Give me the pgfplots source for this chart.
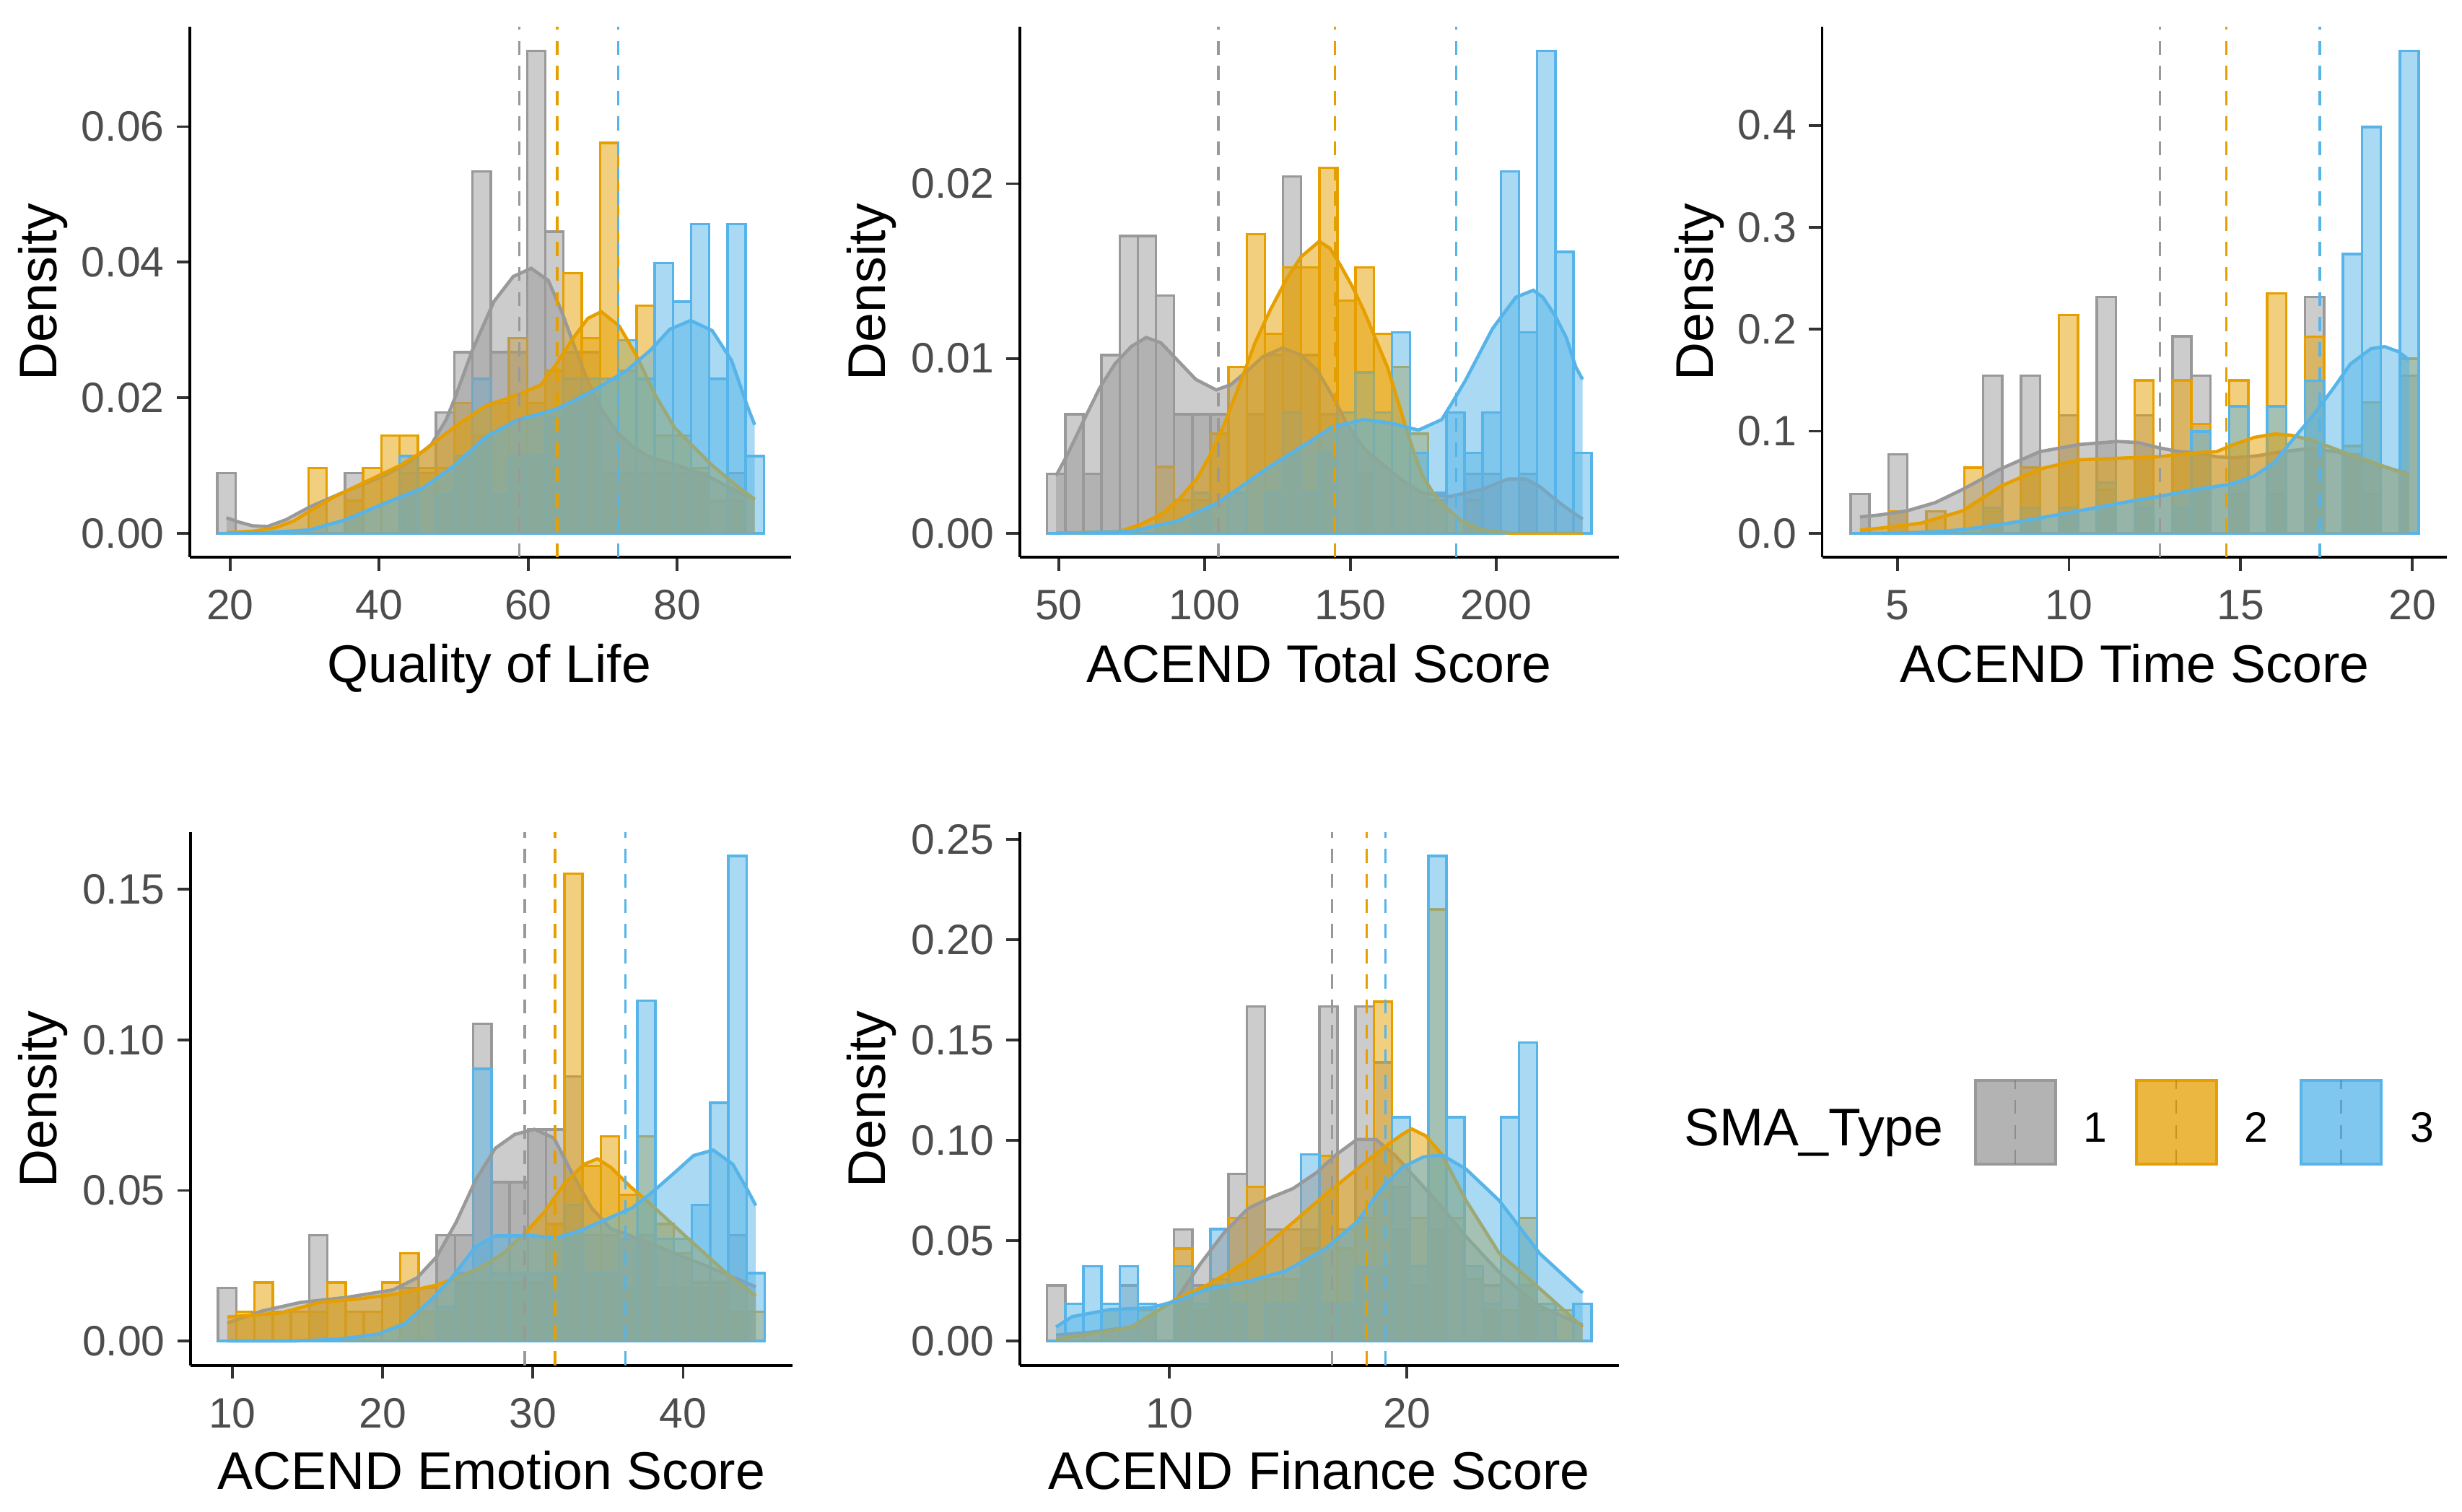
\documentclass[border=0pt]{standalone}
\usepackage{pgfplots}
\pgfplotsset{compat=1.18}
\usepackage{pgfplotstable}
\usepackage{fontspec}
\setmainfont{Liberation Sans}

\definecolor{c1}{HTML}{999999}
\definecolor{c2}{HTML}{E69F00}
\definecolor{c3}{HTML}{56B4E9}
\definecolor{tickgray}{HTML}{4D4D4D}
\newcommand\tickfont{\fontsize{7.7}{9}\selectfont}
\newcommand\titlefont{\fontsize{9.6}{11}\selectfont}

\pgfplotsset{
  panel/.style={
    scale only axis, anchor=south west,
    axis lines=left, axis line style={-, black, line width=0.5pt},
    enlargelimits=false, scaled ticks=false,
    tick align=outside, major tick length=0.85mm,
    tick style={black!80, line width=0.5pt},
    ticklabel style={font=\tickfont, text=tickgray},
    yticklabel style={xshift=0.45mm},
  },
  hist/.style={ybar interval, draw=#1, fill=#1, fill opacity=0.5, line width=0.45pt},
  dfill/.style={draw=none, fill=#1, fill opacity=0.5},
  dline/.style={draw=#1, line width=0.6pt},
  mline/.style={draw=#1, line width=0.45pt, dash pattern=on 0.9mm off 0.7mm},
}

% histogram bins: left edge, then density for SMA type 1, 2, 3
\pgfplotstableread{
x g o b
18.27 0.0089 0 0
20.72 0 0 0
23.16 0 0 0
25.61 0 0 0
28.05 0 0 0
30.50 0 0.0096 0
32.95 0 0 0
35.39 0.0089 0.0048 0
37.84 0 0.0096 0
40.28 0 0.0144 0
42.73 0.0089 0.0144 0.0114
45.18 0.0089 0.0096 0
47.62 0.0178 0.0096 0.0057
50.07 0.0267 0.0192 0.0114
52.51 0.0534 0.0144 0.0228
54.96 0.0267 0.0192 0.0057
57.41 0.0267 0.0288 0.0114
59.85 0.0712 0.0192 0.0114
62.30 0.0445 0.0240 0.0171
64.74 0.0267 0.0384 0.0228
67.19 0.0267 0.0288 0.0228
69.64 0.0089 0.0576 0.0228
72.08 0.0089 0.0240 0.0285
74.53 0.0089 0.0336 0.0228
76.97 0.0089 0.0144 0.0399
79.42 0.0089 0.0144 0.0342
81.87 0.0089 0.0096 0.0456
84.31 0 0.0048 0.0228
86.76 0.0089 0.0048 0.0456
89.20 0 0 0.0114
91.65 0 0 0
}\hA

\pgfplotstableread{
x g o b
46.00 0.0034 0 0
52.22 0.0068 0 0
58.45 0.0034 0 0
64.67 0.0102 0 0
70.89 0.0170 0 0
77.12 0.0170 0 0
83.34 0.0136 0.0038 0
89.56 0.0068 0.0019 0
95.78 0.0068 0.0019 0.0023
102.01 0.0068 0.0057 0
108.23 0 0.0095 0.0023
114.45 0.0068 0.0171 0
120.68 0.0102 0.0114 0.0023
126.90 0.0204 0.0152 0.0069
133.12 0.0102 0.0152 0.0023
139.35 0.0068 0.0209 0.0046
145.57 0 0.0133 0.0069
151.79 0.0034 0.0152 0.0092
158.01 0 0.0114 0.0069
164.24 0 0.0095 0.0115
170.46 0 0.0057 0.0046
176.68 0 0.0019 0.0023
182.91 0 0 0.0069
189.13 0.0034 0.0019 0.0046
195.35 0.0034 0 0.0069
201.58 0 0 0.0207
207.80 0.0034 0 0.0115
214.02 0 0 0.0276
220.24 0 0 0.0161
226.47 0 0 0.0046
232.69 0 0 0
}\hB

\pgfplotstableread{
x g o b
3.636 0.0386 0 0
4.188 0 0 0
4.740 0.0772 0.0214 0
5.291 0 0 0
5.843 0 0.0214 0
6.395 0 0 0
6.947 0 0.0642 0
7.499 0.1544 0.0214 0.0249
8.050 0 0 0
8.602 0.1544 0.0642 0.0249
9.154 0 0 0
9.706 0.1158 0.2140 0.0249
10.258 0 0 0
10.809 0.2316 0.0428 0.0498
11.361 0 0 0
11.913 0.1158 0.1498 0.0249
12.465 0 0 0
13.017 0.1930 0.1498 0.0249
13.568 0.1544 0.1070 0.0996
14.120 0 0 0
14.672 0.0386 0.1498 0.1245
15.224 0 0 0
15.776 0.0386 0.2354 0.1245
16.327 0 0 0
16.879 0.2316 0.1926 0.1494
17.431 0 0 0
17.983 0.0772 0.0856 0.2739
18.535 0.0386 0.1284 0.3984
19.086 0 0 0
19.638 0.1544 0.1712 0.4731
20.190 0 0 0
}\hC

\pgfplotstableread{
x g o b
9.06 0.0176 0 0
10.27 0 0.0097 0
11.48 0 0.0194 0
12.70 0 0.0097 0
13.91 0 0.0097 0
15.12 0.0351 0.0097 0
16.33 0 0.0194 0
17.55 0 0.0097 0
18.76 0 0.0097 0
19.97 0 0.0194 0
21.18 0.0176 0.0291 0
22.40 0.0176 0.0097 0
23.61 0.0351 0.0097 0.0113
24.82 0.0351 0.0194 0.0226
26.03 0.1053 0.0194 0.0904
27.24 0.0527 0.0194 0.0226
28.46 0.0527 0.0194 0.0226
29.67 0.0702 0.0194 0.0226
30.88 0.0702 0.0388 0.0226
32.09 0.0878 0.1552 0.0452
33.31 0.0351 0.0582 0.0226
34.52 0.0351 0.0679 0.0226
35.73 0.0176 0.0485 0.0339
36.94 0.0351 0.0679 0.1130
38.16 0.0176 0.0388 0.0339
39.37 0.0176 0.0291 0.0339
40.58 0.0176 0.0194 0.0452
41.79 0.0176 0.0194 0.0791
43.00 0.0351 0.0097 0.1610
44.22 0 0.0097 0.0226
45.43 0 0 0
}\hD

\pgfplotstableread{
x g o b
4.840 0.0278 0 0
5.605 0 0 0.0186
6.370 0 0 0.0372
7.135 0 0.0154 0.0186
7.900 0.0278 0 0.0372
8.665 0 0.0154 0.0186
9.430 0 0 0
10.195 0.0556 0.0461 0.0372
10.960 0.0278 0.0154 0.0186
11.725 0.0278 0.0308 0.0558
12.490 0.0834 0.0615 0.0186
13.255 0.1668 0.0769 0
14.020 0.0556 0.0308 0.0186
14.785 0.0556 0.0308 0.0186
15.550 0.0556 0.0461 0.0930
16.315 0.1668 0.0923 0.0186
17.080 0.0556 0.0461 0.0186
17.845 0.1668 0.0615 0.0372
18.610 0.1390 0.1692 0.0372
19.375 0.0556 0.0769 0.1116
20.140 0.0278 0.0615 0.0372
20.905 0.0556 0.2153 0.2418
21.670 0 0.0615 0.1116
22.435 0 0.0308 0.0372
23.200 0.0278 0.0154 0.0186
23.965 0 0.0154 0.1116
24.730 0.0278 0.0615 0.1488
25.495 0 0.0154 0.0186
26.260 0 0.0154 0
27.025 0 0 0.0186
27.790 0 0 0
}\hE

% density curves
\pgfplotstableread{
x y
19.5 0.0023
21 0.0017
23 0.0011
25 0.0010
27.5 0.0020
30.7 0.0039
33 0.0050
35.5 0.0062
38 0.0073
40.7 0.0085
44 0.0105
47 0.0131
49 0.0168
50.1 0.0198
52.5 0.0270
55.4 0.0342
58 0.0379
60.4 0.0391
62.7 0.0373
64.5 0.0327
66.4 0.0270
68 0.0225
70 0.0180
72 0.0148
74 0.0128
76 0.0114
80 0.0100
84 0.0085
88 0.0062
90.4 0.0050
}\dAg
\pgfplotstableread{
x y
19.5 0.0001
23 0.0003
26 0.0008
28.5 0.0018
30.7 0.0033
34 0.0054
38 0.0075
42.8 0.0100
45.9 0.0121
50.1 0.0157
54.3 0.0188
59 0.0206
61.7 0.0219
63.8 0.0250
65.9 0.0286
68 0.0317
69.8 0.0327
72.2 0.0306
74.5 0.0263
77 0.0205
79.7 0.0155
84.7 0.0100
88 0.0070
90.4 0.0050
}\dAo
\pgfplotstableread{
x y
19.5 0.0000
25 0.0001
30.7 0.0005
35.5 0.0020
40.7 0.0044
45.9 0.0067
50.1 0.0100
54.3 0.0142
58.5 0.0167
63.8 0.0183
68.5 0.0209
73.2 0.0240
76.4 0.0270
79 0.0301
81.8 0.0314
84.7 0.0299
87.3 0.0255
89.4 0.0188
90.4 0.0160
}\dAb

\pgfplotstableread{
x y
49.1 0.0033
53 0.0045
58.7 0.0065
64 0.0083
69.3 0.0097
75 0.0107
80 0.0112
85 0.0109
90.7 0.0099
97 0.0088
104 0.0082
109 0.0085
114.7 0.0093
120 0.0101
126.7 0.0106
133 0.0102
138.7 0.0093
144 0.0078
149.3 0.0061
155 0.0048
161.3 0.0039
168 0.0030
174.7 0.0023
184 0.0021
195 0.0025
204 0.0031
210 0.0031
214.7 0.0027
222 0.0017
229.6 0.0008
}\dBg
\pgfplotstableread{
x y
49.1 0.0000
70.7 0.0001
78 0.0005
85.3 0.0011
91 0.0019
97.3 0.0031
102 0.0045
106.7 0.0062
112 0.0085
117.3 0.0109
122.6 0.0128
128 0.0145
133 0.0158
139.3 0.0167
143 0.0163
146.7 0.0153
150.7 0.0141
154.7 0.0127
158.7 0.0111
162.7 0.0095
166 0.0077
169.3 0.0059
172 0.0045
174.7 0.0033
178 0.0024
181.3 0.0017
188 0.0007
194.7 0.0002
205 0.0000
229.6 0.0000
}\dBo
\pgfplotstableread{
x y
49.1 0.0000
74.7 0.0001
90.7 0.0007
104 0.0017
112 0.0026
121.3 0.0037
128 0.0044
134.7 0.0051
144 0.0061
154.7 0.0065
164 0.0063
173.3 0.0059
181.3 0.0065
185 0.0075
189.3 0.0087
194 0.0102
198.7 0.0117
206.7 0.0135
212.7 0.0139
216 0.0135
220 0.0125
224 0.0112
227.3 0.0095
229.6 0.0088
}\dBb

\pgfplotstableread{
x y
3.91 0.016
4.5 0.018
5.28 0.022
6.1 0.030
6.9 0.043
8.0 0.063
9.15 0.080
10.3 0.087
11.4 0.090
12.0 0.089
12.6 0.084
13.2 0.080
13.7 0.079
14.3 0.075
14.8 0.074
15.5 0.076
16.2 0.080
17.0 0.083
17.8 0.080
18.6 0.072
19.3 0.064
19.91 0.058
}\dCg
\pgfplotstableread{
x y
3.91 0.003
4.5 0.005
5.7 0.010
6.9 0.022
8.0 0.046
9.15 0.063
10.3 0.072
11.4 0.0735
12.6 0.075
13.7 0.079
14.3 0.080
14.8 0.087
15.4 0.094
16.0 0.0974
16.5 0.096
17.1 0.091
18.2 0.077
19.4 0.063
19.91 0.057
}\dCo
\pgfplotstableread{
x y
3.91 0.000
5.0 0.000
6.3 0.0017
7.0 0.004
8.0 0.0085
9.15 0.015
10.3 0.022
11.4 0.029
12.6 0.036
13.7 0.043
14.7 0.048
15.4 0.056
16.0 0.070
16.5 0.091
17.1 0.115
17.7 0.142
18.2 0.166
18.8 0.181
19.2 0.183
19.6 0.178
19.91 0.170
}\dCb

\pgfplotstableread{
x y
9.67 0.0060
12 0.0100
14.5 0.0128
17.6 0.0145
20.7 0.0170
22.3 0.0210
23.6 0.0280
24.9 0.0395
26.2 0.0535
27.5 0.0640
28.8 0.0686
30.1 0.0703
31.4 0.0674
32.6 0.0558
33.9 0.0442
35.2 0.0372
36.5 0.0350
38 0.0320
40 0.0280
42 0.0240
44.83 0.0180
}\dDg
\pgfplotstableread{
x y
9.67 0.0080
13.2 0.0093
15.8 0.0128
18.4 0.0140
21 0.0157
23.6 0.0186
24.9 0.0210
26.4 0.0240
28 0.0290
29.5 0.0360
30.8 0.0430
32.1 0.0523
33.4 0.0587
34.3 0.0605
35.2 0.0576
36.5 0.0512
37.6 0.0465
40.4 0.0337
43 0.0220
44.83 0.0150
}\dDo
\pgfplotstableread{
x y
9.67 0.0000
14 0.0000
17.1 0.0006
19.7 0.0023
21.5 0.0058
23.3 0.0140
24.6 0.0210
26.2 0.0314
27.5 0.0349
28.8 0.0349
30.1 0.0349
31.6 0.0343
33.1 0.0366
34.7 0.0400
36.6 0.0442
37.8 0.0488
39.4 0.0558
40.7 0.0616
42 0.0634
43.3 0.0587
44.3 0.0500
44.83 0.0450
}\dDb

\pgfplotstableread{
x y
5.22 0.0030
6.7 0.0044
8.4 0.0070
10.3 0.0210
11.3 0.0385
12.3 0.0540
13.3 0.0660
14.3 0.0717
15.2 0.0760
16.2 0.0840
17.0 0.0927
17.9 0.1005
18.7 0.1005
19.5 0.0927
20.7 0.0770
21.5 0.0664
22.5 0.0520
24 0.0330
25.5 0.0180
27.41 0.0080
}\dEg
\pgfplotstableread{
x y
5.22 0.0010
6.7 0.0035
8.4 0.0070
10.3 0.0210
11.6 0.0280
13.3 0.0400
14.9 0.0560
16.6 0.0734
17.9 0.0857
19.0 0.0962
19.8 0.1030
20.2 0.1058
20.8 0.1023
21.5 0.0927
22.5 0.0700
23.9 0.0437
25.6 0.0262
27.41 0.0070
}\dEo
\pgfplotstableread{
x y
5.22 0.0070
5.9 0.0122
7.5 0.0157
9.2 0.0166
10.3 0.0200
11.6 0.0260
13.3 0.0297
14.9 0.0350
16.6 0.0463
17.9 0.0594
19.0 0.0770
19.8 0.0865
20.7 0.0918
21.5 0.0927
22.5 0.0857
23.9 0.0700
25.6 0.0437
27.41 0.0240
}\dEb

\begin{document}
\begin{tikzpicture}
\path (0,0) rectangle (156.8mm,96.3mm);

% Quality of Life
\begin{axis}[panel, at={(12.1mm,60.8mm)}, width=38.3mm, height=33.8mm,
  xmin=14.6, xmax=95.32, ymin=-0.00356, ymax=0.07476,
  xtick={20,40,60,80}, xticklabels={20,40,60,80},
  ytick={0,0.02,0.04,0.06}, yticklabels={0.00,0.02,0.04,0.06}]
\addplot[hist=c1] table[x=x,y=g]{\hA};
\addplot[hist=c2] table[x=x,y=o]{\hA};
\addplot[hist=c3] table[x=x,y=b]{\hA};
\addplot[dfill=c1] table{\dAg}\closedcycle;
\addplot[dline=c1] table{\dAg};
\addplot[dfill=c2] table{\dAo}\closedcycle;
\addplot[dline=c2] table{\dAo};
\addplot[dfill=c3] table{\dAb}\closedcycle;
\addplot[dline=c3] table{\dAb};
\addplot[mline=c1] coordinates{(58.8,-0.00356)(58.8,0.07476)};
\addplot[mline=c2] coordinates{(63.9,-0.00356)(63.9,0.07476)};
\addplot[mline=c3] coordinates{(72.1,-0.00356)(72.1,0.07476)};
\end{axis}

% ACEND Total Score
\begin{axis}[panel, at={(64.95mm,60.8mm)}, width=38.15mm, height=33.8mm,
  xmin=36.66, xmax=242.03, ymin=-0.00138, ymax=0.02898,
  xtick={50,100,150,200}, xticklabels={50,100,150,200},
  ytick={0,0.01,0.02}, yticklabels={0.00,0.01,0.02}]
\addplot[hist=c1] table[x=x,y=g]{\hB};
\addplot[hist=c2] table[x=x,y=o]{\hB};
\addplot[hist=c3] table[x=x,y=b]{\hB};
\addplot[dfill=c1] table{\dBg}\closedcycle;
\addplot[dline=c1] table{\dBg};
\addplot[dfill=c2] table{\dBo}\closedcycle;
\addplot[dline=c2] table{\dBo};
\addplot[dfill=c3] table{\dBb}\closedcycle;
\addplot[dline=c3] table{\dBb};
\addplot[mline=c1] coordinates{(104.7,-0.00138)(104.7,0.02898)};
\addplot[mline=c2] coordinates{(144.7,-0.00138)(144.7,0.02898)};
\addplot[mline=c3] coordinates{(186.3,-0.00138)(186.3,0.02898)};
\end{axis}

% ACEND Time Score
\begin{axis}[panel, at={(116.05mm,60.8mm)}, width=39.8mm, height=33.8mm,
  xmin=2.808, xmax=21.017, ymin=-0.02366, ymax=0.49676,
  xtick={5,10,15,20}, xticklabels={5,10,15,20},
  ytick={0,0.1,0.2,0.3,0.4}, yticklabels={0.0,0.1,0.2,0.3,0.4}]
\addplot[hist=c1] table[x=x,y=g]{\hC};
\addplot[hist=c2] table[x=x,y=o]{\hC};
\addplot[hist=c3] table[x=x,y=b]{\hC};
\addplot[dfill=c1] table{\dCg}\closedcycle;
\addplot[dline=c1] table{\dCg};
\addplot[dfill=c2] table{\dCo}\closedcycle;
\addplot[dline=c2] table{\dCo};
\addplot[dfill=c3] table{\dCb}\closedcycle;
\addplot[dline=c3] table{\dCb};
\addplot[mline=c1] coordinates{(12.65,-0.02366)(12.65,0.49676)};
\addplot[mline=c2] coordinates{(14.58,-0.02366)(14.58,0.49676)};
\addplot[mline=c3] coordinates{(17.31,-0.02366)(17.31,0.49676)};
\end{axis}

% ACEND Emotion Score
\begin{axis}[panel, at={(12.15mm,9.34mm)}, width=38.3mm, height=33.98mm,
  xmin=7.24, xmax=47.25, ymin=-0.00805, ymax=0.16905,
  xtick={10,20,30,40}, xticklabels={10,20,30,40},
  ytick={0,0.05,0.10,0.15}, yticklabels={0.00,0.05,0.10,0.15}]
\addplot[hist=c1] table[x=x,y=g]{\hD};
\addplot[hist=c2] table[x=x,y=o]{\hD};
\addplot[hist=c3] table[x=x,y=b]{\hD};
\addplot[dfill=c1] table{\dDg}\closedcycle;
\addplot[dline=c1] table{\dDg};
\addplot[dfill=c2] table{\dDo}\closedcycle;
\addplot[dline=c2] table{\dDo};
\addplot[dfill=c3] table{\dDb}\closedcycle;
\addplot[dline=c3] table{\dDb};
\addplot[mline=c1] coordinates{(29.45,-0.00805)(29.45,0.16905)};
\addplot[mline=c2] coordinates{(31.48,-0.00805)(31.48,0.16905)};
\addplot[mline=c3] coordinates{(36.15,-0.00805)(36.15,0.16905)};
\end{axis}

% ACEND Finance Score
\begin{axis}[panel, at={(64.95mm,9.34mm)}, width=38.15mm, height=33.98mm,
  xmin=3.6925, xmax=28.9375, ymin=-0.01209, ymax=0.25389,
  xtick={10,20}, xticklabels={10,20},
  ytick={0,0.05,0.10,0.15,0.20,0.25}, yticklabels={0.00,0.05,0.10,0.15,0.20,0.25}]
\addplot[hist=c1] table[x=x,y=g]{\hE};
\addplot[hist=c2] table[x=x,y=o]{\hE};
\addplot[hist=c3] table[x=x,y=b]{\hE};
\addplot[dfill=c1] table{\dEg}\closedcycle;
\addplot[dline=c1] table{\dEg};
\addplot[dfill=c2] table{\dEo}\closedcycle;
\addplot[dline=c2] table{\dEo};
\addplot[dfill=c3] table{\dEb}\closedcycle;
\addplot[dline=c3] table{\dEb};
\addplot[mline=c1] coordinates{(16.85,-0.01209)(16.85,0.25389)};
\addplot[mline=c2] coordinates{(18.31,-0.01209)(18.31,0.25389)};
\addplot[mline=c3] coordinates{(19.1,-0.01209)(19.1,0.25389)};
\end{axis}

% axis titles
\begin{scope}[every node/.style={font=\titlefont, inner sep=0pt}]
\node[rotate=90, anchor=base] at (3.6mm,77.7mm) {Density};
\node[rotate=90, anchor=base] at (56.4mm,77.7mm) {Density};
\node[rotate=90, anchor=base] at (109.1mm,77.7mm) {Density};
\node[rotate=90, anchor=base] at (3.6mm,26.3mm) {Density};
\node[rotate=90, anchor=base] at (56.4mm,26.3mm) {Density};
\node[anchor=base] at (31.15mm,52.85mm) {Quality of Life};
\node[anchor=base] at (84.0mm,52.85mm) {ACEND Total Score};
\node[anchor=base] at (135.95mm,52.85mm) {ACEND Time Score};
\node[anchor=base] at (31.3mm,1.45mm) {ACEND Emotion Score};
\node[anchor=base] at (84.0mm,1.45mm) {ACEND Finance Score};
\node[anchor=base west] at (107.2mm,23.33mm) {SMA\_Type};
\end{scope}

% legend keys
\foreach \c/\xa/\lab/\xl in {c1/125.8/1/133.45, c2/136.05/2/143.7, c3/146.54/3/154.27}{
  \fill[\c, fill opacity=0.75] (\xa mm,22.15mm) rectangle ++(5.1mm,5.35mm);
  \draw[\c, line width=0.5pt] (\xa mm,22.15mm) rectangle ++(5.1mm,5.35mm);
  \draw[\c!70!black, line width=0.35pt, dash pattern=on 0.9mm off 0.7mm, opacity=0.5]
    ([xshift=2.55mm]\xa mm,22.15mm) -- ++(0,5.35mm);
  \node[anchor=base, font=\tickfont, inner sep=0pt] at (\xl mm,23.55mm) {\lab};
}
\end{tikzpicture}
\end{document}
